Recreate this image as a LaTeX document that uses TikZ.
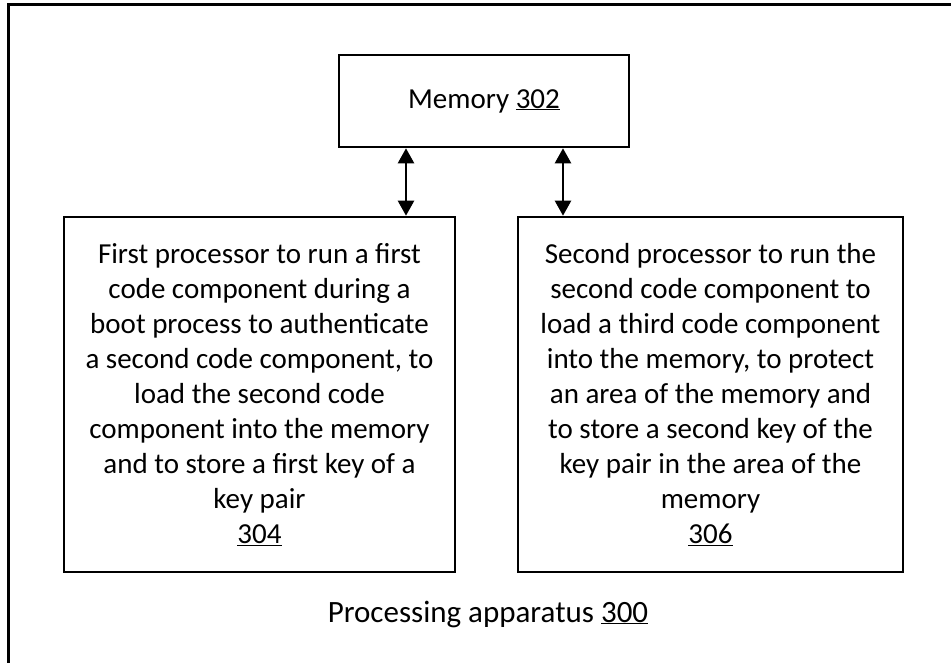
\documentclass[tikz,border=0pt]{standalone}
\usepackage{fontspec}
\setmainfont{Carlito}
\usetikzlibrary{arrows.meta}
\newcommand{\ul}[1]{\underline{#1}}
\begin{document}
\begin{tikzpicture}[x=1pt,y=-1pt,
  box/.style={draw, line width=2.6pt, align=center, inner sep=0pt,
    font=\fontsize{29}{35}\selectfont},
  lbl/.style={align=center, inner sep=0pt, font=\fontsize{31}{35}\selectfont},
  dbl/.style={line width=2.4pt, {Triangle[width=16pt,length=15pt]}-{Triangle[width=16pt,length=15pt]}}]
\useasboundingbox (0,0) rectangle (951,663);
\node[draw, line width=2.6pt, minimum width=960pt, minimum height=680pt, anchor=north west] (frame) at (7,3) {};
\node[box, minimum width=290pt, minimum height=92pt] (mem) at (484,101) {Memory \ul{302}};
\node[box, minimum width=391pt, minimum height=355pt] (p1) at (259.5,394.5)
  {First processor to run a first\\ code component during a\\ boot process to authenticate\\ a second code component, to\\ load the second code\\ component into the memory\\ and to store a first key of a\\ key pair\\ \ul{304}};
\node[box, minimum width=385pt, minimum height=355pt] (p2) at (710.5,394.5)
  {Second processor to run the\\ second code component to\\ load a third code component\\ into the memory, to protect\\ an area of the memory and\\ to store a second key of the\\ key pair in the area of the\\ memory\\ \ul{306}};
\node[lbl, anchor=base] (pa) at (488,622) {Processing apparatus \ul{300}};
\draw[dbl] (mem.south -| 406,0) -- (p1.north -| 406,0);
\draw[dbl] (mem.south -| 563,0) -- (p2.north -| 563,0);
\end{tikzpicture}
\end{document}
